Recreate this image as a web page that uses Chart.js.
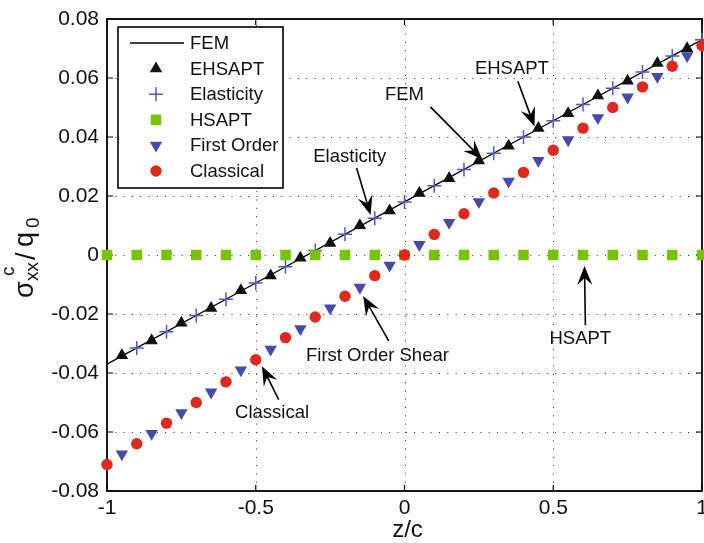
<!DOCTYPE html>
<html>
<head>
<meta charset="utf-8">
<script src="https://cdn.jsdelivr.net/npm/chart.js@4/dist/chart.umd.min.js"></script>
<style>
  body { margin: 0; background: #fff; }
  #wrap { width: 704px; height: 543px; }
</style>
</head>
<body>
<div id="wrap"><canvas id="chart" width="704" height="543"></canvas></div>
<script>
const FONT = '"Liberation Sans", Arial, Helvetica, sans-serif';

// through-thickness stress sigma_xx^c / q0 against z/c
const femZ = [-1, -0.5, 0, 0.5, 1];
const femVals = [-0.037, -0.0095, 0.018, 0.0455, 0.073];

const ehsaptZ = [-0.95, -0.85, -0.75, -0.65, -0.55, -0.45, -0.35, -0.25, -0.15, -0.05,
                 0.05, 0.15, 0.25, 0.35, 0.45, 0.55, 0.65, 0.75, 0.85, 0.95];
const ehsaptVals = [-0.034, -0.029, -0.023, -0.018, -0.012, -0.007, -0.001, 0.004, 0.010, 0.015,
                    0.021, 0.026, 0.032, 0.037, 0.043, 0.048, 0.054, 0.059, 0.065, 0.070];

const elastZ = [-0.9, -0.8, -0.7, -0.6, -0.5, -0.4, -0.3, -0.2, -0.1, 0,
                0.1, 0.2, 0.3, 0.4, 0.5, 0.6, 0.7, 0.8, 0.9, 1];
const elastVals = [-0.0315, -0.026, -0.0205, -0.015, -0.0095, -0.004, 0.0015, 0.007, 0.0125, 0.018,
                   0.0235, 0.029, 0.0345, 0.040, 0.0455, 0.051, 0.0565, 0.062, 0.0675, 0.073];

const hsaptZ = [-1, -0.9, -0.8, -0.7, -0.6, -0.5, -0.4, -0.3, -0.2, -0.1, 0,
                0.1, 0.2, 0.3, 0.4, 0.5, 0.6, 0.7, 0.8, 0.9, 1];
const hsaptVals = [0, 0, 0, 0, 0, 0, 0, 0, 0, 0, 0, 0, 0, 0, 0, 0, 0, 0, 0, 0, 0];

const firstZ = [-0.95, -0.85, -0.75, -0.65, -0.55, -0.45, -0.35, -0.25, -0.15, -0.05,
                0.05, 0.15, 0.25, 0.35, 0.45, 0.55, 0.65, 0.75, 0.85, 0.95];
const firstVals = [-0.0675, -0.0605, -0.0535, -0.0465, -0.039, -0.032, -0.025, -0.018, -0.011, -0.0035,
                   0.0035, 0.011, 0.018, 0.025, 0.032, 0.039, 0.0465, 0.0535, 0.0605, 0.0675];

const classicalZ = [-1, -0.9, -0.8, -0.7, -0.6, -0.5, -0.4, -0.3, -0.2, -0.1, 0,
                    0.1, 0.2, 0.3, 0.4, 0.5, 0.6, 0.7, 0.8, 0.9, 1];
const classicalVals = [-0.071, -0.064, -0.057, -0.050, -0.043, -0.0355, -0.028, -0.021, -0.014, -0.007, 0,
                       0.007, 0.014, 0.021, 0.028, 0.0355, 0.043, 0.050, 0.057, 0.064, 0.071];

const xTicks = [-1, -0.5, 0, 0.5, 1];
const yTicks = [-0.08, -0.06, -0.04, -0.02, 0, 0.02, 0.04, 0.06, 0.08];

// callouts, placed in data units
const notes = [
  { text: 'EHSAPT', at: [0.361, 0.0630], from: [0.381, 0.0589], to: [0.437, 0.0436] },
  { text: 'FEM', at: [0.0, 0.0541], from: [0.087, 0.0502], to: [0.261, 0.0325] },
  { text: 'Elasticity', at: [-0.184, 0.0333], from: [-0.161, 0.0295], to: [-0.114, 0.0136] },
  { text: 'First Order Shear', at: [-0.091, -0.0342], from: [-0.053, -0.0291], to: [-0.139, -0.0139] },
  { text: 'Classical', at: [-0.445, -0.0534], from: [-0.423, -0.049], to: [-0.479, -0.0377] },
  { text: 'HSAPT', at: [0.591, -0.0283], from: [0.608, -0.0237], to: [0.605, -0.0037] }
];

const pts = (zs, vs) => zs.map((z, i) => ({ x: z, y: vs[i] }));

function marker(ctx, style, x, y, r, rot, fill, stroke, lw) {
  ctx.save();
  ctx.translate(x, y);
  ctx.rotate((rot || 0) * Math.PI / 180);
  ctx.beginPath();
  if (style === 'triangle') {
    for (let k = 0; k < 3; k++) {
      const a = k * 2 * Math.PI / 3;
      ctx.lineTo(Math.sin(a) * r, -Math.cos(a) * r);
    }
    ctx.closePath();
    ctx.fillStyle = fill; ctx.fill();
  } else if (style === 'cross') {
    ctx.moveTo(-r, 0); ctx.lineTo(r, 0);
    ctx.moveTo(0, -r); ctx.lineTo(0, r);
    ctx.strokeStyle = stroke; ctx.lineWidth = lw; ctx.stroke();
  } else if (style === 'rect') {
    const s = r * Math.SQRT1_2;
    ctx.fillStyle = fill; ctx.fillRect(-s, -s, 2 * s, 2 * s);
  } else {
    ctx.arc(0, 0, r, 0, 2 * Math.PI);
    ctx.fillStyle = fill; ctx.fill();
  }
  ctx.restore();
}

function arrow(ctx, x0, y0, x1, y1) {
  const dx = x1 - x0, dy = y1 - y0;
  const len = Math.hypot(dx, dy);
  const ux = dx / len, uy = dy / len;
  const nx = -uy, ny = ux;
  const L = 19, W = 7.5, notch = 12;
  ctx.beginPath();
  ctx.moveTo(x0, y0);
  ctx.lineTo(x1 - ux * notch, y1 - uy * notch);
  ctx.strokeStyle = '#000';
  ctx.lineWidth = 1.6;
  ctx.stroke();
  ctx.beginPath();
  ctx.moveTo(x1, y1);
  ctx.lineTo(x1 - ux * L + nx * W, y1 - uy * L + ny * W);
  ctx.lineTo(x1 - ux * notch, y1 - uy * notch);
  ctx.lineTo(x1 - ux * L - nx * W, y1 - uy * L - ny * W);
  ctx.closePath();
  ctx.fillStyle = '#000';
  ctx.fill();
}

// dotted grid, box and inward tick marks
const frame = {
  id: 'frame',
  beforeDatasetsDraw(chart) {
    const { ctx, chartArea: a, scales: { x, y } } = chart;
    ctx.save();
    ctx.strokeStyle = '#333';
    ctx.lineWidth = 1;
    ctx.setLineDash([1, 7.3]);
    xTicks.slice(1, -1).forEach(v => {
      const px = Math.round(x.getPixelForValue(v)) + 0.5;
      ctx.beginPath(); ctx.moveTo(px, a.bottom); ctx.lineTo(px, a.top); ctx.stroke();
    });
    yTicks.slice(1, -1).forEach(v => {
      const py = Math.round(y.getPixelForValue(v)) + 0.5;
      ctx.beginPath(); ctx.moveTo(a.left, py); ctx.lineTo(a.right, py); ctx.stroke();
    });
    ctx.setLineDash([]);
    ctx.strokeStyle = '#000';
    ctx.lineWidth = 1.2;
    const t = 6;
    xTicks.forEach(v => {
      const px = x.getPixelForValue(v);
      ctx.beginPath();
      ctx.moveTo(px, a.bottom); ctx.lineTo(px, a.bottom - t);
      ctx.moveTo(px, a.top); ctx.lineTo(px, a.top + t);
      ctx.stroke();
    });
    yTicks.forEach(v => {
      const py = y.getPixelForValue(v);
      ctx.beginPath();
      ctx.moveTo(a.left, py); ctx.lineTo(a.left + t, py);
      ctx.moveTo(a.right, py); ctx.lineTo(a.right - t, py);
      ctx.stroke();
    });
    ctx.lineWidth = 1.8;
    ctx.strokeRect(a.left, a.top, a.right - a.left, a.bottom - a.top);
    ctx.restore();
  },
  afterDraw(chart) {
    const { ctx, chartArea: a, scales: { x, y } } = chart;
    ctx.save();

    // callouts
    ctx.font = '18.5px ' + FONT;
    ctx.textAlign = 'center';
    ctx.textBaseline = 'middle';
    notes.forEach(n => {
      ctx.fillStyle = '#111';
      ctx.fillText(n.text, x.getPixelForValue(n.at[0]), y.getPixelForValue(n.at[1]));
      arrow(ctx, x.getPixelForValue(n.from[0]), y.getPixelForValue(n.from[1]),
                 x.getPixelForValue(n.to[0]), y.getPixelForValue(n.to[1]));
    });

    // legend box
    const bx = a.left + 11, by = a.top + 8, bw = 165, bh = 161;
    ctx.fillStyle = '#fff';
    ctx.fillRect(bx, by, bw, bh);
    ctx.strokeStyle = '#000';
    ctx.lineWidth = 1.6;
    ctx.strokeRect(bx, by, bw, bh);
    ctx.textAlign = 'left';
    chart.data.datasets.forEach((ds, i) => {
      const cy = by + 16 + i * 25.6;
      const cx = bx + 38;
      if (ds.showLine) {
        ctx.beginPath();
        ctx.moveTo(bx + 12, cy); ctx.lineTo(bx + 66, cy);
        ctx.strokeStyle = ds.borderColor; ctx.lineWidth = ds.borderWidth;
        ctx.stroke();
      } else {
        marker(ctx, ds.pointStyle, cx, cy, ds.pointRadius, ds.rotation,
               ds.backgroundColor, ds.borderColor, ds.borderWidth);
      }
      ctx.fillStyle = '#111';
      ctx.fillText(ds.label, bx + 72, cy + 1);
    });

    // axis titles
    ctx.fillStyle = '#111';
    ctx.font = '24px ' + FONT;
    ctx.textAlign = 'center';
    ctx.textBaseline = 'alphabetic';
    ctx.fillText('z/c', (a.left + a.right) / 2 + 3, 537);

    ctx.translate(33, 298);
    ctx.rotate(-Math.PI / 2);
    ctx.textAlign = 'left';
    const big = '27px ' + FONT, small = '19px ' + FONT;
    ctx.font = big;
    ctx.fillText('σ', 0, 0);
    ctx.fillText('/', 38, 2);
    ctx.fillText('q', 51, 0);
    ctx.font = small;
    ctx.fillText('c', 22, -19);
    ctx.fillText('xx', 17, 5);
    ctx.fillText('0', 70, 6);
    ctx.restore();
  }
};

const data = {
  datasets: [
    { label: 'FEM', data: pts(femZ, femVals), showLine: true, pointRadius: 0,
      borderColor: '#000', borderWidth: 1.3, order: 6 },
    { label: 'EHSAPT', data: pts(ehsaptZ, ehsaptVals), pointStyle: 'triangle', pointRadius: 7.2,
      backgroundColor: '#111', borderColor: '#111', borderWidth: 0, order: 5 },
    { label: 'Elasticity', data: pts(elastZ, elastVals), pointStyle: 'cross', pointRadius: 7,
      backgroundColor: '#5159bd', borderColor: '#5159bd', borderWidth: 1.5, order: 4 },
    { label: 'HSAPT', data: pts(hsaptZ, hsaptVals), pointStyle: 'rect', pointRadius: 7.4,
      backgroundColor: '#76c400', borderColor: '#76c400', borderWidth: 0, order: 3 },
    { label: 'First Order', data: pts(firstZ, firstVals), pointStyle: 'triangle', rotation: 180,
      pointRadius: 7.2, backgroundColor: '#464bab', borderColor: '#464bab', borderWidth: 0, order: 2 },
    { label: 'Classical', data: pts(classicalZ, classicalVals), pointStyle: 'circle', pointRadius: 5.7,
      backgroundColor: '#e1281d', borderColor: '#e1281d', borderWidth: 0, order: 1 }
  ]
};

const config = {
  type: 'scatter',
  data: data,
  options: {
    responsive: false,
    animation: false,
    devicePixelRatio: 1,
    clip: false,
    layout: { autoPadding: false, padding: { top: 19, right: 2, left: 0, bottom: 0 } },
    plugins: { legend: { display: false }, tooltip: { enabled: false } },
    elements: { point: { hoverRadius: 0 } },
    scales: {
      x: {
        type: 'linear', min: -1, max: 1,
        afterBuildTicks: s => { s.ticks = xTicks.map(v => ({ value: v })); },
        afterFit: s => { s.height = 52; s.paddingLeft = 0; s.paddingRight = 0; },
        grid: { display: false, drawTicks: false },
        border: { display: false },
        ticks: {
          color: '#111', padding: 5, maxRotation: 0, autoSkip: false,
          font: { family: FONT, size: 21 },
          callback: v => String(v)
        }
      },
      y: {
        type: 'linear', min: -0.08, max: 0.08,
        afterBuildTicks: s => { s.ticks = yTicks.map(v => ({ value: v })); },
        afterFit: s => { s.width = 107; s.paddingTop = 0; s.paddingBottom = 0; },
        grid: { display: false, drawTicks: false },
        border: { display: false },
        ticks: {
          color: '#111', padding: 8, autoSkip: false,
          font: { family: FONT, size: 21 },
          callback: v => (Math.abs(v) < 1e-9 ? '0' : v.toFixed(2))
        }
      }
    }
  },
  plugins: [frame]
};

const chart = new Chart(document.getElementById('chart'), config);
</script>
</body>
</html>
